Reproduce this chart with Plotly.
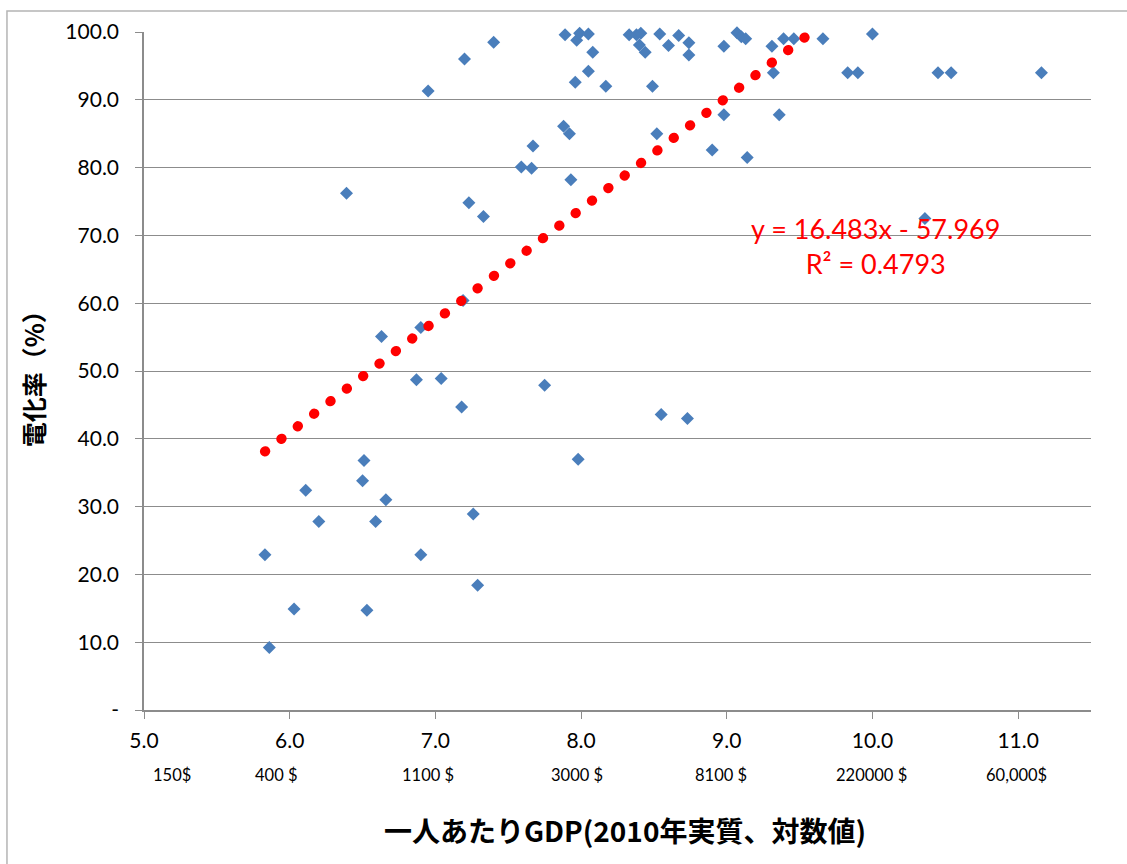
import plotly.graph_objects as go

# --- data ---
gdp_log = [5.83, 5.86, 6.03, 6.11, 6.20, 6.39, 6.50, 6.51, 6.53, 6.59, 6.63, 6.66,
           6.87, 6.90, 6.90, 6.95, 7.04, 7.18, 7.19, 7.20, 7.23, 7.26, 7.29, 7.33,
           7.40, 7.59, 7.66, 7.67, 7.75, 7.88, 7.89, 7.92, 7.93, 7.96, 7.97, 7.98,
           7.99, 8.05, 8.05, 8.08, 8.17, 8.33, 8.38, 8.41, 8.40, 8.44, 8.49, 8.52,
           8.54, 8.55, 8.60, 8.67, 8.74, 8.74, 8.73, 8.90, 8.98, 8.98, 9.07, 9.10,
           9.13, 9.14, 9.31, 9.32, 9.36, 9.39, 9.46, 9.66, 9.83, 9.90, 10.00, 10.36,
           10.45, 10.54, 11.16]
electrification = [22.9, 9.2, 14.9, 32.4, 27.8, 76.2, 33.8, 36.8, 14.7, 27.8, 55.1, 31.0,
                   48.7, 22.9, 56.4, 91.3, 48.9, 44.7, 60.4, 96.0, 74.8, 28.9, 18.4, 72.8,
                   98.5, 80.1, 79.9, 83.2, 47.9, 86.1, 99.6, 85.0, 78.2, 92.6, 98.8, 37.0,
                   99.8, 94.2, 99.7, 97.0, 92.0, 99.6, 99.6, 99.8, 98.1, 97.0, 92.0, 85.0,
                   99.7, 43.6, 98.0, 99.5, 98.4, 96.6, 43.0, 82.6, 97.9, 87.8, 99.9, 99.3,
                   99.0, 81.5, 97.9, 94.0, 87.8, 99.0, 99.0, 99.0, 94.0, 94.0, 99.7, 72.5,
                   94.0, 94.0, 94.0]

trend_slope = 16.483
trend_intercept = -57.969
r_squared = 0.4793

x_tick_vals = [5, 6, 7, 8, 9, 10, 11]
x_tick_text = ["5.0", "6.0", "7.0", "8.0", "9.0", "10.0", "11.0"]
y_tick_vals = [0, 10, 20, 30, 40, 50, 60, 70, 80, 90, 100]
y_tick_text = ["-", "10.0", "20.0", "30.0", "40.0", "50.0", "60.0", "70.0", "80.0", "90.0", "100.0"]
dollar_labels = ["150$", "400 $", "1100 $", "3000 $", "8100 $", "220000 $", "60,000$"]
dollar_label_x = [5.19, 5.91, 6.95, 7.97, 8.96, 9.99, 10.99]

x_title = "一人あたりGDP(2010年実質、対数値)"
y_title = "電化率（%）"

# --- trend line endpoints from displayed regression equation ---
tx = [min(gdp_log), max(gdp_log)]
ty = [trend_slope * v + trend_intercept for v in tx]

fig = go.Figure()
fig.add_trace(go.Scatter(
    x=gdp_log, y=electrification, mode="markers",
    marker=dict(symbol="diamond", size=10, color="#4A7EBB", line=dict(width=0)),
    cliponaxis=False, showlegend=False, hoverinfo="x+y"))
fig.add_trace(go.Scatter(
    x=tx, y=ty, mode="lines",
    line=dict(color="#FF0000", width=10, dash="0.5px,20.1px"),
    showlegend=False, hoverinfo="skip"))

CJK = "Noto Sans CJK JP"
TICKF = "Lato, Open Sans, sans-serif"

annotations = []
for lab, xv in zip(dollar_labels, dollar_label_x):
    annotations.append(dict(x=xv, y=0, xref="x", yref="y", yshift=-65, text=lab,
                            showarrow=False, font=dict(family=TICKF, size=16.5, color="#000"),
                            xanchor="center", yanchor="middle"))
eq_text = f"y = {trend_slope}x - {abs(trend_intercept)}<br>R² = {r_squared}"
annotations.append(dict(x=10.02, y=68.4, xref="x", yref="y", text=eq_text, showarrow=False,
                        font=dict(family=TICKF, size=27, color="#FF0000"), align="center",
                        xanchor="center", yanchor="middle"))
annotations.append(dict(x=0.5, y=-0.177, xref="paper", yref="paper", text="<b>" + x_title + "</b>",
                        showarrow=False, font=dict(family=CJK, size=28, color="#000"),
                        xanchor="center", yanchor="middle", xshift=7))
annotations.append(dict(x=-0.117, y=0.5, xref="paper", yref="paper", text="<b>" + y_title + "</b>",
                        showarrow=False, font=dict(family=CJK, size=25, color="#000"),
                        textangle=-90, xanchor="center", yanchor="middle", yshift=-2))

fig.update_layout(
    width=1127, height=864,
    margin=dict(l=144, r=36, t=32, b=154),
    paper_bgcolor="white", plot_bgcolor="white",
    xaxis=dict(range=[5, 11.5], tickvals=x_tick_vals, ticktext=x_tick_text,
               showgrid=False, zeroline=False, showline=True, linecolor="#8C8C8C", linewidth=1.5,
               ticks="outside", ticklen=7, tickcolor="#8C8C8C", tickwidth=1,
               ticklabelstandoff=4,
               tickfont=dict(family=TICKF, size=21, color="#000")),
    yaxis=dict(range=[0, 100], tickvals=y_tick_vals, ticktext=y_tick_text,
               showgrid=True, gridcolor="#8C8C8C", gridwidth=1, zeroline=False,
               showline=True, linecolor="#8C8C8C", linewidth=1.5,
               ticks="outside", ticklen=7, tickcolor="#8C8C8C", tickwidth=1,
               ticklabelstandoff=12,
               tickfont=dict(family=TICKF, size=21, color="#000")),
    annotations=annotations,
    shapes=[dict(type="rect", xref="paper", yref="paper", x0=-0.1447, x1=1.1, y0=-0.3, y1=1.031,
                 line=dict(color="#B4B4B4", width=1.5), fillcolor="rgba(0,0,0,0)", layer="below")],
)

post = """
var tr = document.querySelectorAll('g.scatterlayer g.trace');
if (tr.length > 1) { var p = tr[1].querySelector('path.js-line'); if (p) { p.style.strokeLinecap = 'round'; } }
"""
fig.write_html("out.html", post_script=post)
